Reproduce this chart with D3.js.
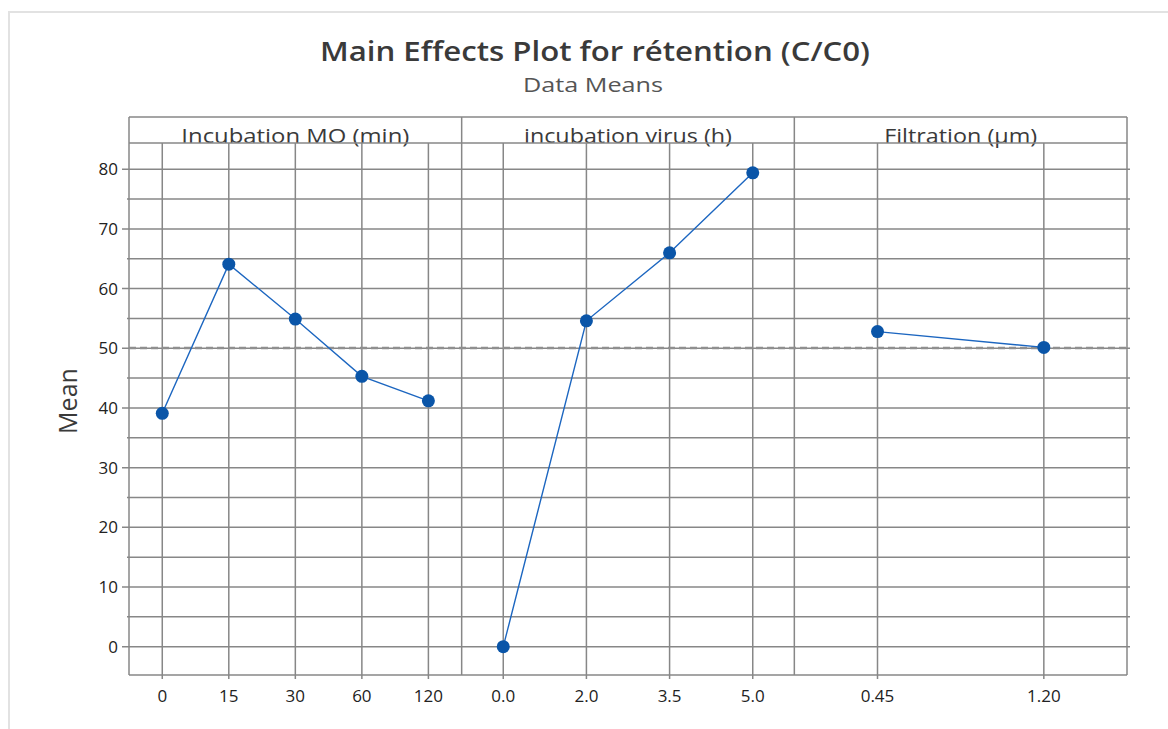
<!DOCTYPE html>
<html>
<head>
<meta charset="utf-8">
<script src="https://cdn.jsdelivr.net/npm/d3@7"></script>
<style>
  body { margin: 0; background: #fff; }
  svg { display: block; font-family: "Open Sans", "Noto Sans", sans-serif; }
</style>
</head>
<body>
<svg id="chart" width="1168" height="729"></svg>
<script>
// factors and their levels
var factors = ["Incubation MO (min)", "incubation virus (h)", "Filtration (µm)"];
var moLevels = ["0", "15", "30", "60", "120"];
var virusLevels = ["0.0", "2.0", "3.5", "5.0"];
var filtLevels = ["0.45", "1.20"];

var moMeans = [39.1, 64.1, 54.9, 45.3, 41.2];
var virusMeans = [0, 54.6, 66.0, 79.4];
var filtMeans = [52.8, 50.15];

var overallMean = 50.05;
var yTicks = [0, 10, 20, 30, 40, 50, 60, 70, 80];

var panels = [
  { name: factors[0], levels: moLevels, means: moMeans, w: 228 },
  { name: factors[1], levels: virusLevels, means: virusMeans, w: 208 },
  { name: factors[2], levels: filtLevels, means: filtMeans, w: 153 }
];

var svg = d3.select("#chart");

var left = 129, right = 1127, stripTop = 117, plotTop = 143, bottom = 675;
var gridColor = "#878787";

// light frame round the whole graph
svg.append("rect")
  .attr("x", 9).attr("y", 12)
  .attr("width", 1300).attr("height", 900)
  .attr("fill", "none")
  .attr("stroke", "#e2e2e2")
  .attr("stroke-width", 2);

// titles (the original text is a bit wider than Open Sans, so stretch it)
svg.append("text")
  .attr("x", 595).attr("y", 61)
  .attr("text-anchor", "middle")
  .attr("font-size", 27)
  .attr("font-weight", 600)
  .attr("fill", "#3a3a3a")
  .attr("textLength", 550)
  .attr("lengthAdjust", "spacingAndGlyphs")
  .text("Main Effects Plot for rétention (C/C0)");

svg.append("text")
  .attr("x", 593).attr("y", 92)
  .attr("text-anchor", "middle")
  .attr("font-size", 20)
  .attr("fill", "#555")
  .attr("textLength", 140)
  .attr("lengthAdjust", "spacingAndGlyphs")
  .text("Data Means");

var y = d3.scaleLinear().domain([-4.75, 84.4]).range([bottom, plotTop]);

var panelX = d3.scaleBand()
  .domain(panels.map(function(p) { return p.name; }))
  .range([left, right]);

//************************ grid *************************/
var gridVals = d3.range(0, 85, 5);

svg.append("g").attr("class", "hgrid")
  .selectAll("line")
  .data(gridVals)
  .enter().append("line")
  .attr("x1", function(d) { return yTicks.indexOf(d) >= 0 ? left - 7 : left - 2; })
  .attr("x2", right + 3)
  .attr("y1", function(d) { return y(d); })
  .attr("y2", function(d) { return y(d); })
  .attr("stroke", gridColor)
  .attr("stroke-width", 1.5);

panels.forEach(function(p) {
  var x0 = panelX(p.name);
  var x = d3.scalePoint().domain(p.levels).range([x0, x0 + panelX.bandwidth()]).padding(0.5);
  p.x = x;

  var g = svg.append("g").attr("class", "panel");

  g.selectAll("line.vgrid")
    .data(p.levels)
    .enter().append("line")
    .attr("class", "vgrid")
    .attr("x1", function(d) { return x(d); })
    .attr("x2", function(d) { return x(d); })
    .attr("y1", plotTop)
    .attr("y2", bottom + 4)
    .attr("stroke", gridColor)
    .attr("stroke-width", 1.5);

  // tick labels
  g.selectAll("text.tick")
    .data(p.levels)
    .enter().append("text")
    .attr("class", "tick")
    .attr("x", function(d) { return x(d); })
    .attr("y", 702)
    .attr("text-anchor", "middle")
    .attr("font-size", 17)
    .attr("fill", "#222")
    .text(function(d) { return d; });

  // panel divider
  g.append("line")
    .attr("x1", x0).attr("x2", x0)
    .attr("y1", stripTop).attr("y2", bottom)
    .attr("stroke", gridColor)
    .attr("stroke-width", 1.5);

  // strip label
  g.append("text")
    .attr("x", x0 + panelX.bandwidth() / 2)
    .attr("y", 143)
    .attr("text-anchor", "middle")
    .attr("font-size", 20)
    .attr("fill", "#3a3a3a")
    .attr("textLength", p.w)
    .attr("lengthAdjust", "spacingAndGlyphs")
    .text(p.name);
});

// right border + strip lines + bottom axis
svg.append("line")
  .attr("x1", right).attr("x2", right)
  .attr("y1", stripTop).attr("y2", bottom)
  .attr("stroke", gridColor).attr("stroke-width", 1.5);
svg.append("line")
  .attr("x1", left).attr("x2", right)
  .attr("y1", stripTop).attr("y2", stripTop)
  .attr("stroke", gridColor).attr("stroke-width", 1.5);
svg.append("line")
  .attr("x1", left).attr("x2", right)
  .attr("y1", plotTop).attr("y2", plotTop)
  .attr("stroke", gridColor).attr("stroke-width", 1.5);
svg.append("line")
  .attr("x1", left).attr("x2", right)
  .attr("y1", bottom).attr("y2", bottom)
  .attr("stroke", gridColor).attr("stroke-width", 1.5);

// y tick labels
svg.append("g")
  .selectAll("text")
  .data(yTicks)
  .enter().append("text")
  .attr("x", 118)
  .attr("y", function(d) { return y(d) + 6; })
  .attr("text-anchor", "end")
  .attr("font-size", 17)
  .attr("fill", "#222")
  .text(function(d) { return d; });

svg.append("text")
  .attr("transform", "translate(77,401) rotate(-90)")
  .attr("text-anchor", "middle")
  .attr("font-size", 25)
  .attr("fill", "#3a3a3a")
  .text("Mean");

// overall mean reference line
svg.append("line")
  .attr("x1", left).attr("x2", right + 3)
  .attr("y1", y(overallMean)).attr("y2", y(overallMean))
  .attr("stroke", "#8f8f8f")
  .attr("stroke-width", 2.5)
  .attr("stroke-dasharray", "7,4");

//************************ means *************************/
panels.forEach(function(p) {
  var pts = p.levels.map(function(l, i) { return [p.x(l), y(p.means[i])]; });

  svg.append("path")
    .attr("d", d3.line()(pts))
    .attr("fill", "none")
    .attr("stroke", "#1c66c0")
    .attr("stroke-width", 1.4);

  svg.append("g")
    .selectAll("circle")
    .data(pts)
    .enter().append("circle")
    .attr("cx", function(d) { return d[0]; })
    .attr("cy", function(d) { return d[1]; })
    .attr("r", 6.5)
    .attr("fill", "#0a55a8");
});
</script>
</body>
</html>
